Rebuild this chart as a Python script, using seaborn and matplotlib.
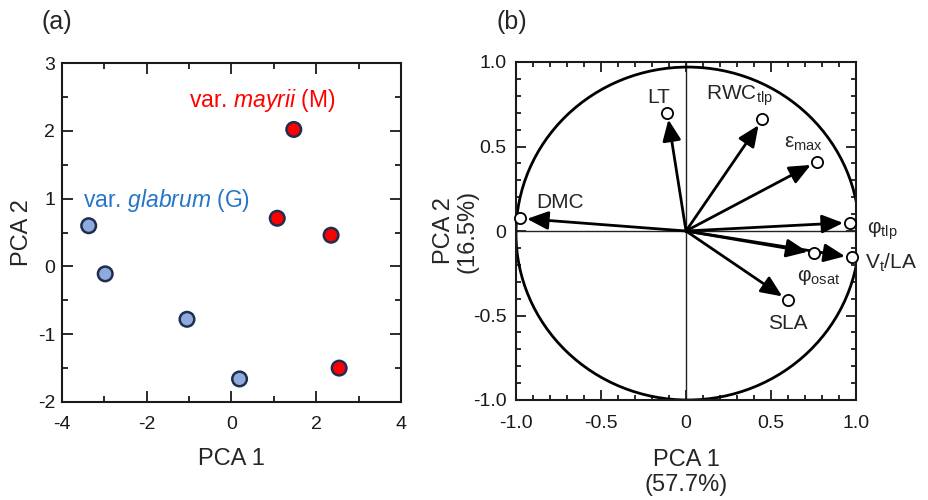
import matplotlib
matplotlib.use("Agg")
import matplotlib.pyplot as plt
import seaborn as sns
import pandas as pd
from matplotlib.patches import Ellipse
from matplotlib.ticker import MultipleLocator

# ---------------- data ----------------
group_names = ["G", "M"]
g_pc1 = [-3.37, -2.98, -1.05, 0.19]
g_pc2 = [0.60, -0.11, -0.78, -1.66]
m_pc1 = [1.08, 1.47, 2.35, 2.54]
m_pc2 = [0.71, 2.02, 0.46, -1.50]

traits = ["LT", "RWC_tlp", "e_max", "phi_tlp", "Vt_LA", "phi_osat", "SLA", "DMC"]
trait_labels = ["LT", r"RWC$_{\mathrm{tlp}}$", r"ε$_{\mathrm{max}}$", r"φ$_{\mathrm{tlp}}$",
                r"V$_{\mathrm{t}}$/LA", r"φ$_{\mathrm{osat}}$", "SLA", "DMC"]
load_pc1 = [-0.11, 0.45, 0.77, 0.965, 0.976, 0.755, 0.60, -0.976]
load_pc2 = [0.70, 0.66, 0.41, 0.05, -0.156, -0.13, -0.41, 0.075]
label_x = [-0.16, 0.12, 0.575, 1.065, 1.055, 0.655, 0.48, -0.88]
label_y = [0.79, 0.80, 0.52, 0.0, -0.19, -0.27, -0.55, 0.17]

a_xticks = [-4, -2, 0, 2, 4]
a_yticks = [-2, -1, 0, 1, 2, 3]
b_ticks = [-1.0, -0.5, 0.0, 0.5, 1.0]
b_ticklabels = ["-1.0", "-0.5", "0", "0.5", "1.0"]

# ---------------- style ----------------
sns.set_style("ticks")
plt.rcParams["font.family"] = ["Liberation Sans", "DejaVu Sans"]
plt.rcParams["mathtext.fontset"] = "custom"
plt.rcParams["mathtext.rm"] = "Liberation Sans"
plt.rcParams["mathtext.it"] = "Liberation Sans:italic"
plt.rcParams["axes.unicode_minus"] = False

fig = plt.figure(figsize=(9.29, 5.0), dpi=100)
axA = fig.add_axes([62 / 929, 1 - 402 / 500, 339 / 929, 339 / 500])
axB = fig.add_axes([516 / 929, 1 - 400 / 500, 340 / 929, 338 / 500])

# ---------------- panel (a) ----------------
df = pd.DataFrame({
    "PC1": g_pc1 + m_pc1,
    "PC2": g_pc2 + m_pc2,
    "group": [group_names[0]] * len(g_pc1) + [group_names[1]] * len(m_pc1),
})
sns.scatterplot(data=df, x="PC1", y="PC2", hue="group",
                palette={"G": "#8FAADC", "M": "#FF0000"},
                s=110, edgecolor="#1F2D50", linewidth=1.8, legend=False,
                ax=axA, zorder=3)
axA.set_xlim(-4, 4)
axA.set_ylim(-2, 3)
axA.set_xticks(a_xticks)
axA.set_yticks(a_yticks)
axA.set_xticklabels([str(t) for t in a_xticks])
axA.set_yticklabels([str(t) for t in a_yticks])
axA.xaxis.set_minor_locator(MultipleLocator(1))
axA.yaxis.set_minor_locator(MultipleLocator(0.5))
axA.tick_params(which="both", direction="in", top=True, right=True,
                labelsize=14, width=1.3, colors="#1a1a1a")
axA.tick_params(which="major", length=8)
axA.tick_params(axis="x", which="major", pad=10)
axA.tick_params(axis="y", which="major", pad=5)
axA.tick_params(which="minor", length=4.3)
axA.set_xlabel("PCA 1", fontsize=17)
axA.set_ylabel("PCA 2", fontsize=17)
axA.xaxis.set_label_coords(0.5, -0.135)
axA.yaxis.set_label_coords(-0.085, 0.5)
for sp in axA.spines.values():
    sp.set_linewidth(1.5)
    sp.set_color("#1a1a1a")

axA.text(-1.0, 2.45, r"var. $\mathit{mayrii}$ (M)", color="#FF0000",
         fontsize=16.5, ha="left", va="center")
axA.text(-3.5, 0.97, r"var. $\mathit{glabrum}$ (G)", color="#2576C8",
         fontsize=16.5, ha="left", va="center")

# ---------------- panel (b) ----------------
axB.set_xlim(-1, 1)
axB.set_ylim(-1, 1)
axB.axhline(0, color="#222222", lw=1.0, zorder=1)
axB.axvline(0, color="#222222", lw=1.0, zorder=1)
axB.add_patch(Ellipse((0.01, -0.015), 2.02, 1.97, fill=False,
                      edgecolor="black", lw=2.0, zorder=2))
for px, py in zip(load_pc1, load_pc2):
    axB.annotate("", xy=(px, py), xytext=(0, 0),
                 arrowprops=dict(arrowstyle="-|>,head_length=0.8,head_width=0.35",
                                 mutation_scale=16, color="black", lw=2.0,
                                 shrinkA=0, shrinkB=5), zorder=3)
sns.scatterplot(x=load_pc1, y=load_pc2, ax=axB, s=65, facecolor="white",
                edgecolor="black", linewidth=1.3, zorder=4, legend=False, clip_on=False)
for lab, lx, ly in zip(trait_labels, label_x, label_y):
    ha = "center" if lab == "LT" else "left"
    axB.text(lx, ly, lab, fontsize=15, ha=ha, va="center", clip_on=False)

axB.set_xticks(b_ticks)
axB.set_yticks(b_ticks)
axB.set_xticklabels(b_ticklabels)
axB.set_yticklabels(b_ticklabels)
axB.xaxis.set_minor_locator(MultipleLocator(0.1))
axB.yaxis.set_minor_locator(MultipleLocator(0.1))
axB.tick_params(which="both", direction="in", top=True, right=True,
                labelsize=14, width=1.3, colors="#1a1a1a")
axB.tick_params(which="major", length=7)
axB.tick_params(axis="x", which="major", pad=11)
axB.tick_params(axis="y", which="major", pad=7)
axB.tick_params(which="minor", length=3.6)
axB.set_xlabel("PCA 1\n(57.7%)", fontsize=17, linespacing=1.15)
axB.set_ylabel("PCA 2\n(16.5%)", fontsize=17, linespacing=1.1)
axB.xaxis.set_label_coords(0.5, -0.145)
axB.yaxis.set_label_coords(-0.11, 0.5)
for sp in axB.spines.values():
    sp.set_linewidth(1.5)
    sp.set_color("#1a1a1a")

fig.text(42 / 929, 1 - 22 / 500, "(a)", fontsize=18, ha="left", va="center")
fig.text(497 / 929, 1 - 22 / 500, "(b)", fontsize=18, ha="left", va="center")

fig.savefig("out.png", dpi=100)
